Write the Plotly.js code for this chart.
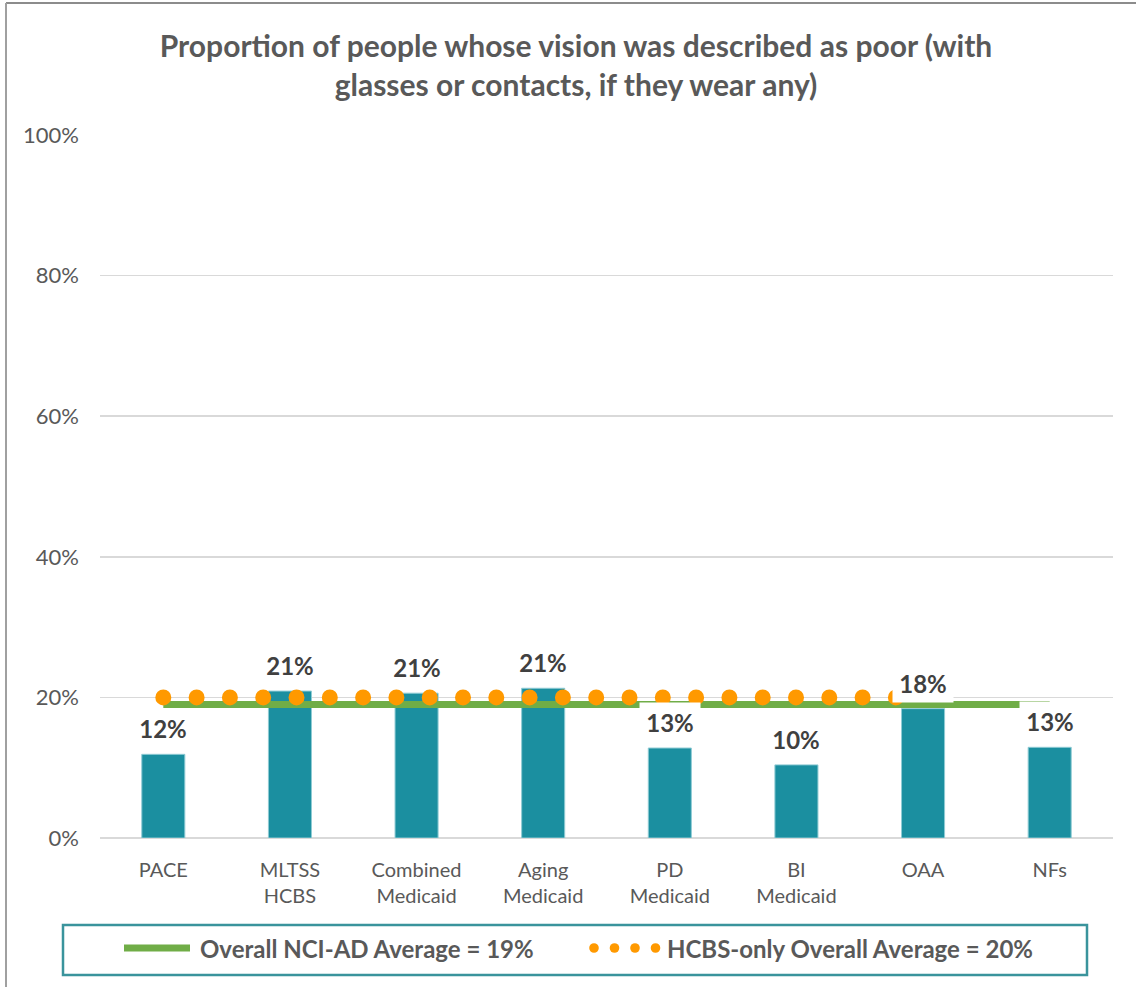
<!DOCTYPE html>
<html>
<head>
<meta charset="utf-8">
<script src="https://cdn.plot.ly/plotly-3.0.1.min.js"></script>
<style>
  html, body { margin: 0; padding: 0; background: #ffffff; }
  #chart { width: 1136px; height: 987px; }
  .tracehcbs path.js-line { stroke-linecap: round !important; }
</style>
</head>
<body>
<div id="chart"></div>
<script>
// ---- data ----
const categories = ['PACE', 'MLTSS HCBS', 'Combined Medicaid', 'Aging Medicaid', 'PD Medicaid', 'BI Medicaid', 'OAA', 'NFs'];
const tickLabels = ['PACE', 'MLTSS<br>HCBS', 'Combined<br>Medicaid', 'Aging<br>Medicaid', 'PD<br>Medicaid', 'BI<br>Medicaid', 'OAA', 'NFs'];
const values = [0.119, 0.209, 0.206, 0.213, 0.128, 0.104, 0.184, 0.129];
const valueLabels = ['12%', '21%', '21%', '21%', '13%', '10%', '18%', '13%'];
const overallAverage = 0.19;
const hcbsAverage = 0.20;
const hcbsCategories = ['PACE', 'MLTSS HCBS', 'Combined Medicaid', 'Aging Medicaid', 'PD Medicaid', 'BI Medicaid', 'OAA'];
const yTicks = [0, 0.2, 0.4, 0.6, 0.8, 1.0];
const legendLabels = ['Overall NCI-AD Average = 19%', 'HCBS-only Overall Average = 20%'];
const titleText = 'Proportion of people whose vision was described as poor (with<br>glasses or contacts, if they wear any)';

// ---- geometry helpers (page pixels -> paper coords) ----
const W = 1136, H = 987;
const M = { l: 100, r: 23, t: 135, b: 149 };
const PW = W - M.l - M.r, PH = H - M.t - M.b;
const px = x => (x - M.l) / PW;
const py = y => (H - M.b - y) / PH;

const gray = '#595959';
const teal = '#1b8fa0';
const green = '#70ad47';
const orange = '#ff9900';

const traces = [
  {
    type: 'bar',
    x: categories,
    y: values,
    width: 0.34,
    marker: { color: teal, line: { color: '#8fcbd4', width: 1 } },
    hoverinfo: 'x+y',
    showlegend: false
  },
  {
    type: 'scatter',
    mode: 'lines',
    uid: 'overall',
    name: legendLabels[0],
    x: categories,
    y: categories.map(() => overallAverage),
    line: { color: green, width: 7 },
    showlegend: false
  },
  {
    type: 'scatter',
    mode: 'lines',
    uid: 'hcbs',
    name: legendLabels[1],
    x: hcbsCategories,
    y: hcbsCategories.map(() => hcbsAverage),
    line: { color: orange, width: 16, dash: '0px,33.3px' },
    showlegend: false
  }
];

const annotations = categories.map((c, i) => ({
  x: c, y: values[i], xref: 'x', yref: 'y',
  text: valueLabels[i],
  showarrow: false,
  yanchor: 'middle',
  yshift: 26,
  width: 60,
  height: 38,
  borderpad: 0,
  bgcolor: '#ffffff',
  font: { family: 'Lato, sans-serif', size: 24, color: '#404040', weight: 'bold' }
}));

// legend texts
annotations.push({
  xref: 'paper', yref: 'paper', x: px(198), y: py(948),
  xanchor: 'left', yanchor: 'middle', showarrow: false,
  text: '<b>' + legendLabels[0] + '</b>',
  font: { family: 'Lato, sans-serif', size: 24, color: gray }
});
annotations.push({
  xref: 'paper', yref: 'paper', x: px(665), y: py(948),
  xanchor: 'left', yanchor: 'middle', showarrow: false,
  text: '<b>' + legendLabels[1] + '</b>',
  font: { family: 'Lato, sans-serif', size: 24, color: gray }
});

const shapes = [
  // outer frame lines
  { type: 'line', xref: 'paper', yref: 'paper', x0: px(6), x1: px(1136), y0: py(3), y1: py(3), line: { color: '#8c8c8c', width: 2 } },
  { type: 'line', xref: 'paper', yref: 'paper', x0: px(6), x1: px(6), y0: py(3), y1: py(987), line: { color: '#a0a0a0', width: 2 } },
  // legend box
  { type: 'rect', xref: 'paper', yref: 'paper', x0: px(63), x1: px(1087), y0: py(925), y1: py(975), line: { color: '#3a949c', width: 2.5 }, fillcolor: 'rgba(0,0,0,0)' },
  // legend green sample
  { type: 'line', xref: 'paper', yref: 'paper', x0: px(124), x1: px(190), y0: py(948), y1: py(948), line: { color: green, width: 7 } }
];
// legend orange dot samples
[594, 614.5, 635, 655.5].forEach(cx => {
  const r = 4.8;
  shapes.push({ type: 'circle', xref: 'paper', yref: 'paper',
    x0: px(cx - r), x1: px(cx + r), y0: py(948 + r), y1: py(948 - r),
    fillcolor: orange, line: { width: 0 } });
});

const layout = {
  width: W, height: H,
  margin: M,
  paper_bgcolor: '#ffffff',
  plot_bgcolor: '#ffffff',
  font: { family: 'Lato, sans-serif', color: gray },
  title: {
    text: titleText,
    x: 576 / W, xanchor: 'center',
    y: 1 - 57 / H, yanchor: 'middle',
    font: { family: 'Lato, sans-serif', size: 30, color: gray, weight: 'bold' }
  },
  xaxis: {
    type: 'category',
    tickvals: categories,
    ticktext: tickLabels,
    tickfont: { size: 20, color: gray },
    showgrid: false,
    showline: false,
    zeroline: false,
    ticks: '',
    ticklabelstandoff: 18,
    fixedrange: true
  },
  yaxis: {
    range: [0, 1],
    tickvals: yTicks,
    tickformat: '.0%',
    tickfont: { size: 22, color: gray },
    gridcolor: '#d9d9d9',
    gridwidth: 1.5,
    zeroline: true,
    zerolinecolor: '#d9d9d9',
    zerolinewidth: 1.5,
    showline: false,
    ticks: '',
    ticklabelstandoff: 20,
    fixedrange: true
  },
  showlegend: false,
  annotations: annotations,
  shapes: shapes
};

Plotly.newPlot('chart', traces, layout, { displayModeBar: false, staticPlot: true });
</script>
</body>
</html>
